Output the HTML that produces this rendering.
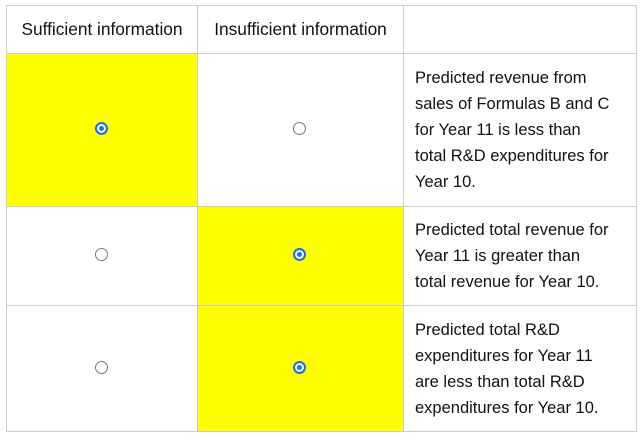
<!DOCTYPE html>
<html><head><meta charset="utf-8"><style>
body{margin:0;width:642px;height:440px;background:#fff;font-family:"Liberation Sans",sans-serif;font-size:16.5px;color:#111;position:relative;overflow:hidden}
.c{position:absolute;box-sizing:border-box;border:1px solid #ccc;display:flex;align-items:center;justify-content:center}
.h{font-size:17.3px}
.y{background:#ffff00}
.t{justify-content:flex-start;padding-left:11px;line-height:26px}
.r{width:13px;height:13px;border-radius:50%;box-sizing:border-box;border:1px solid #777;background:#fff;margin-top:-3px;margin-left:-2px}
.r.on{border:2px solid #1a73e8;background:#1a73e8;box-shadow:inset 0 0 0 2px #fff}
</style></head><body>
<div>
<div class="c h" style="left:6px;top:5px;width:192px;height:49px">Sufficient information</div>
<div class="c h" style="left:197px;top:5px;width:207px;height:49px">Insufficient information</div>
<div class="c" style="left:403px;top:5px;width:234px;height:49px"></div>

<div class="c y" style="left:6px;top:53px;width:192px;height:154px"><div class="r on"></div></div>
<div class="c" style="left:197px;top:53px;width:207px;height:154px"><div class="r"></div></div>
<div class="c t" style="left:403px;top:53px;width:234px;height:154px">Predicted revenue from<br>sales of Formulas B and C<br>for Year 11 is less than<br>total R&amp;D expenditures for<br>Year 10.</div>

<div class="c" style="left:6px;top:206px;width:192px;height:100px"><div class="r"></div></div>
<div class="c y" style="left:197px;top:206px;width:207px;height:100px"><div class="r on"></div></div>
<div class="c t" style="left:403px;top:206px;width:234px;height:100px">Predicted total revenue for<br>Year 11 is greater than<br>total revenue for Year 10.</div>

<div class="c" style="left:6px;top:305px;width:192px;height:127px"><div class="r"></div></div>
<div class="c y" style="left:197px;top:305px;width:207px;height:127px"><div class="r on"></div></div>
<div class="c t" style="left:403px;top:305px;width:234px;height:127px">Predicted total R&amp;D<br>expenditures for Year 11<br>are less than total R&amp;D<br>expenditures for Year 10.</div>
</div>
</body></html>
